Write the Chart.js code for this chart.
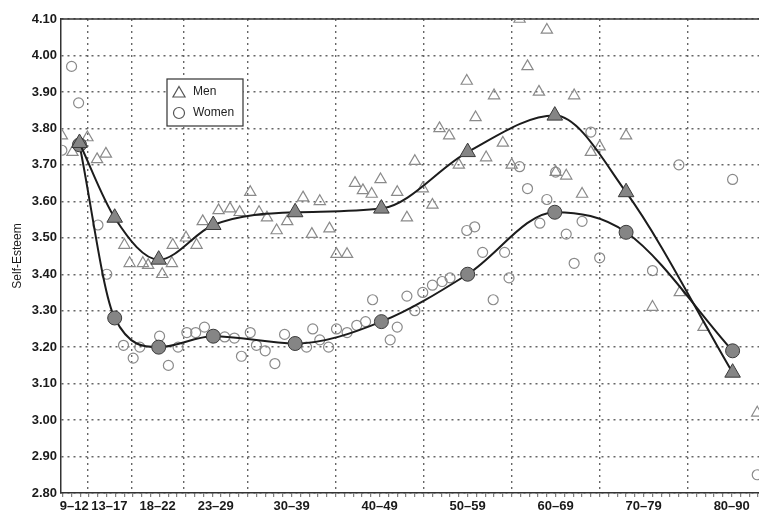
<!DOCTYPE html>
<html>
<head>
<meta charset="utf-8">
<title>Self-Esteem by age</title>
<script src="https://cdn.jsdelivr.net/npm/chart.js@4.4.1/dist/chart.umd.min.js"></script>
<style>
  html, body { margin: 0; padding: 0; background: #fff; }
</style>
</head>
<body>
<canvas id="chart" width="759" height="513"></canvas>
<script>
// Age groups along the x axis (edges are in age units, first/last edge = axis range)
const groupLabels = ["9–12", "13–17", "18–22", "23–29", "30–39", "40–49", "50–59", "60–69", "70–79", "80–90"];
const groupEdges = [8.8, 11.8, 16.8, 22.75, 30, 40, 50, 60, 70, 80, 90];

// Group means (filled markers joined by the curves)
const meanAges = [10.9, 14.9, 19.9, 26.1, 35.4, 45.2, 55.0, 64.9, 73.0, 85.1];
const menMeans = [3.76, 3.555, 3.44, 3.535, 3.57, 3.58, 3.735, 3.835, 3.625, 3.13];
const womenMeans = [3.755, 3.28, 3.2, 3.23, 3.21, 3.27, 3.4, 3.57, 3.515, 3.19];

// Single-age values (hollow markers)
const menAges = [8.9, 10.1, 11.8, 12.9, 13.9, 16.0, 16.6, 18.1, 18.7, 20.3, 21.4, 21.5, 23.0, 24.2, 24.9,
  26.7, 28.0, 29.1, 30.3, 31.3, 32.2, 33.3, 34.5, 36.3, 37.3, 38.2, 39.3, 40.1, 41.3, 42.2,
  43.1, 44.1, 45.1, 47.0, 48.1, 49.0, 49.9, 51.0, 51.8, 52.9, 54.0, 54.9, 55.9, 57.1, 58.0,
  59.0, 60.0, 60.9, 61.8, 63.1, 64.0, 65.0, 66.2, 67.1, 68.0, 69.0, 70.0, 73.0, 76.0, 79.1, 81.8, 87.9];
const menScores = [3.78, 3.735, 3.775, 3.715, 3.73, 3.48, 3.43, 3.43, 3.425, 3.40, 3.43, 3.48, 3.50, 3.48, 3.545,
  3.575, 3.58, 3.57, 3.625, 3.57, 3.555, 3.52, 3.545, 3.61, 3.51, 3.60, 3.525, 3.455, 3.455, 3.65,
  3.63, 3.62, 3.66, 3.625, 3.555, 3.71, 3.635, 3.59, 3.80, 3.78, 3.70, 3.93, 3.83, 3.72, 3.89,
  3.76, 3.70, 4.10, 3.97, 3.90, 4.07, 3.68, 3.67, 3.89, 3.62, 3.735, 3.75, 3.78, 3.31, 3.35, 3.255, 3.02];
const womenAges = [8.9, 10.0, 10.8, 13.0, 14.0, 15.9, 17.0, 17.75, 20.0, 21.0, 22.1, 23.1, 24.1, 25.1, 27.4,
  28.5, 29.3, 30.3, 31.0, 32.0, 33.1, 34.2, 36.7, 37.4, 38.2, 39.2, 40.1, 41.3, 42.4, 43.4,
  44.2, 46.2, 47.0, 48.1, 49.0, 49.9, 51.0, 52.1, 53.0, 54.9, 55.8, 56.7, 57.9, 59.2, 59.7,
  60.9, 61.8, 63.2, 64.0, 65.0, 66.2, 67.1, 68.0, 69.0, 70.0, 76.0, 79.0, 85.1, 87.9];
const womenScores = [3.74, 3.97, 3.87, 3.535, 3.40, 3.205, 3.17, 3.20, 3.23, 3.15, 3.20, 3.24, 3.24, 3.255, 3.228,
  3.225, 3.175, 3.24, 3.205, 3.19, 3.155, 3.235, 3.20, 3.25, 3.22, 3.20, 3.25, 3.24, 3.26, 3.27,
  3.33, 3.22, 3.255, 3.34, 3.30, 3.35, 3.37, 3.38, 3.39, 3.52, 3.53, 3.46, 3.33, 3.46, 3.39,
  3.695, 3.635, 3.54, 3.605, 3.68, 3.51, 3.43, 3.545, 3.79, 3.445, 3.41, 3.70, 3.66, 2.85];

const yMin = 2.8, yMax = 4.1, yStep = 0.1;
const xMin = 8.8, xMax = 88.1;

const FONT = "'Liberation Sans', Arial, Helvetica, sans-serif";
const round2 = v => Math.round(v * 100) / 100;
const groupCenters = groupLabels.map((_, i) => round2((groupEdges[i] + groupEdges[i + 1]) / 2));
const innerEdges = groupEdges.slice(1, -1);

function toPoints(xs, ys) {
  return xs.map((x, i) => ({ x: x, y: ys[i] }));
}

// Solid line along the top of the plot
const topFrame = {
  id: "topFrame",
  beforeDatasetsDraw(chart) {
    const { ctx, chartArea } = chart;
    ctx.save();
    ctx.strokeStyle = "#333";
    ctx.lineWidth = 1.5;
    ctx.beginPath();
    ctx.moveTo(chartArea.left, chartArea.top);
    ctx.lineTo(chartArea.right, chartArea.top);
    ctx.stroke();
    ctx.restore();
  }
};

// Boxed legend inside the plot
const boxLegend = {
  id: "boxLegend",
  afterDraw(chart) {
    const ctx = chart.ctx;
    const items = chart.data.datasets.filter(d => d.inLegend);
    const left = 167, top = 79, w = 76, h = 47;
    ctx.save();
    ctx.fillStyle = "#fff";
    ctx.fillRect(left, top, w, h);
    ctx.strokeStyle = "#333";
    ctx.lineWidth = 1.2;
    ctx.strokeRect(left, top, w, h);
    items.forEach((d, i) => {
      const y = top + 13 + i * 21;
      ctx.strokeStyle = "#555";
      ctx.fillStyle = "rgba(0,0,0,0)";
      Chart.helpers.drawPoint(ctx, {
        pointStyle: d.pointStyle, radius: d.pointStyle === "triangle" ? 7 : 5.5,
        rotation: 0, borderWidth: 1.2
      }, left + 12, y + (d.pointStyle === "triangle" ? 1.5 : 0));
      ctx.fillStyle = "#222";
      ctx.font = "12px " + FONT;
      ctx.textBaseline = "middle";
      ctx.fillText(d.label, left + 26, y);
    });
    ctx.restore();
  }
};

new Chart(document.getElementById("chart"), {
  type: "scatter",
  data: {
    datasets: [
      {
        type: "line",
        label: "Men (group means)",
        data: toPoints(meanAges, menMeans),
        borderColor: "#1c1c1c",
        borderWidth: 2,
        cubicInterpolationMode: "monotone",
        fill: false,
        pointStyle: "triangle",
        pointRadius: 9,
        pointBackgroundColor: "#858585",
        pointBorderColor: "#3a3a3a",
        pointBorderWidth: 1
      },
      {
        type: "line",
        label: "Women (group means)",
        data: toPoints(meanAges, womenMeans),
        borderColor: "#1c1c1c",
        borderWidth: 2,
        cubicInterpolationMode: "monotone",
        fill: false,
        pointStyle: "circle",
        pointRadius: 7,
        pointBackgroundColor: "#858585",
        pointBorderColor: "#3a3a3a",
        pointBorderWidth: 1
      },
      {
        label: "Men",
        inLegend: true,
        data: toPoints(menAges, menScores),
        pointStyle: "triangle",
        pointRadius: 6.5,
        backgroundColor: "rgba(0,0,0,0)",
        borderColor: "#8a8a8a",
        pointBorderWidth: 1.2
      },
      {
        label: "Women",
        inLegend: true,
        data: toPoints(womenAges, womenScores),
        pointStyle: "circle",
        pointRadius: 5,
        backgroundColor: "rgba(0,0,0,0)",
        borderColor: "#8a8a8a",
        pointBorderWidth: 1.2
      }
    ]
  },
  options: {
    responsive: false,
    animation: false,
    layout: { autoPadding: false, padding: { top: 19, right: 0, left: 0, bottom: 0 } },
    plugins: {
      legend: { display: false },
      tooltip: { enabled: false }
    },
    scales: {
      x: {
        type: "linear",
        min: xMin,
        max: xMax,
        afterBuildTicks(scale) {
          const vals = new Set();
          for (let a = 9; a <= 88; a++) vals.add(a);
          innerEdges.forEach(v => vals.add(v));
          groupCenters.forEach(v => vals.add(v));
          scale.ticks = [...vals].sort((a, b) => a - b).map(value => ({ value }));
        },
        afterFit(scale) {
          scale.height = 20;
          scale.paddingLeft = 0;
          scale.paddingRight = 0;
        },
        ticks: {
          autoSkip: false,
          maxRotation: 0,
          minRotation: 0,
          padding: 2,
          color: "#1a1a1a",
          font: { family: FONT, size: 13, weight: "bold" },
          callback(value) {
            const i = groupCenters.findIndex(c => Math.abs(c - value) < 0.001);
            return i >= 0 ? groupLabels[i] : "";
          }
        },
        grid: {
          color: ctx => (ctx.tick && innerEdges.includes(ctx.tick.value)) ? "#666" : "rgba(0,0,0,0)",
          lineWidth: 1.4,
          tickLength: 4,
          tickColor: ctx => (ctx.tick && Number.isInteger(ctx.tick.value)) ? "#666" : "rgba(0,0,0,0)",
          tickWidth: 1
        },
        border: { display: true, color: "#333", width: 1.5, dash: [2, 4] }
      },
      y: {
        min: yMin,
        max: yMax,
        afterFit(scale) { scale.width = 61; },
        ticks: {
          stepSize: yStep,
          padding: 4,
          color: "#1a1a1a",
          font: { family: FONT, size: 13, weight: "bold" },
          callback: v => v.toFixed(2)
        },
        grid: {
          color: "#666",
          lineWidth: 1.4,
          drawTicks: false
        },
        border: { display: true, color: "#333", width: 1.5, dash: [2, 4] },
        title: {
          display: true,
          text: "Self-Esteem",
          color: "#1a1a1a",
          font: { family: FONT, size: 12 },
          padding: { top: 10, bottom: 0 }
        }
      }
    }
  },
  plugins: [topFrame, boxLegend]
});
</script>
</body>
</html>
